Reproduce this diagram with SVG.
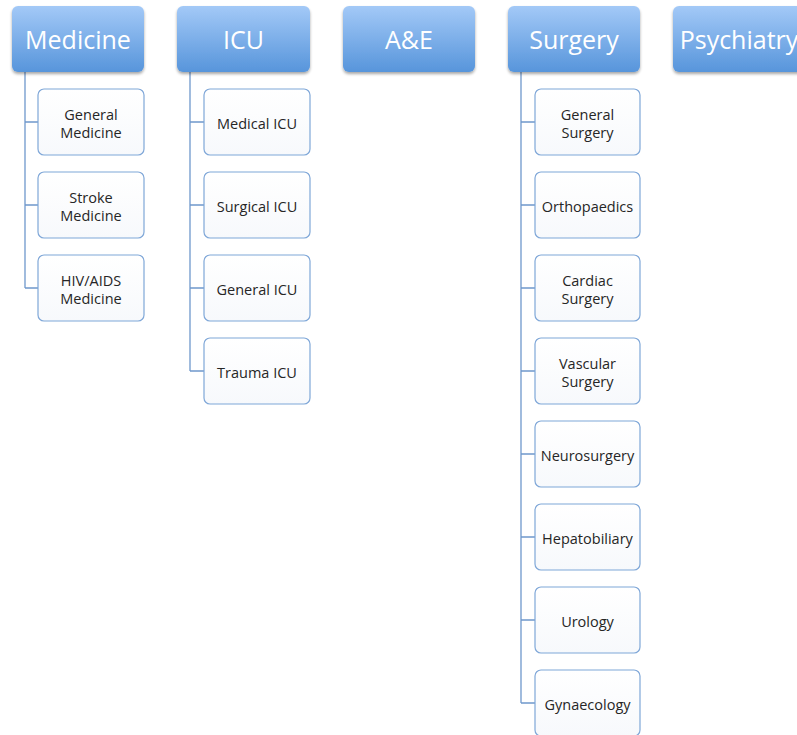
<svg xmlns="http://www.w3.org/2000/svg" width="797" height="735" viewBox="0 0 797 735">
<defs>
<linearGradient id="topg" x1="0" y1="0" x2="0" y2="1">
<stop offset="0" stop-color="#a3c9f7"/>
<stop offset="1" stop-color="#5795db"/>
</linearGradient>
<linearGradient id="childg" x1="0" y1="0" x2="0" y2="1">
<stop offset="0" stop-color="#ffffff"/>
<stop offset="1" stop-color="#f7f9fc"/>
</linearGradient>
<filter id="sh" x="-10%" y="-10%" width="120%" height="130%">
<feGaussianBlur in="SourceAlpha" stdDeviation="1.5"/>
<feOffset dx="0" dy="2" result="b"/>
<feComponentTransfer><feFuncA type="linear" slope="0.35"/></feComponentTransfer>
<feMerge><feMergeNode/><feMergeNode in="SourceGraphic"/></feMerge>
</filter>
</defs>
<style>
.top rect{fill:url(#topg);filter:url(#sh);}
.top text{font-family:"Open Sans",sans-serif;font-size:25px;fill:#ffffff;text-anchor:middle;}
.child rect{fill:url(#childg);stroke:#7fa7d8;stroke-width:1.2;}
.child text{font-family:"Open Sans",sans-serif;font-size:14.5px;fill:#262626;text-anchor:middle;}
.conn path{fill:none;stroke:#6f98cc;stroke-width:1.3;}
</style>
<rect width="797" height="735" fill="#ffffff"/>
<g id="connectors" class="conn">
<path d="M25 72V288M25 122H38M25 205H38M25 288H38"/>
<path d="M190 72V371M190 122H204M190 205H204M190 288H204M190 371H204"/>
<path d="M521 72V703M521 122H535M521 205H535M521 288H535M521 371H535M521 454H535M521 537H535M521 620H535M521 703H535"/>
</g>
<g id="medicine" class="top"><rect x="12" y="6" width="132" height="66" rx="6"/><text x="78" y="49">Medicine</text></g>
<g id="icu" class="top"><rect x="177" y="6" width="133" height="66" rx="6"/><text x="243.5" y="49">ICU</text></g>
<g id="ae" class="top"><rect x="343" y="6" width="132" height="66" rx="6"/><text x="409" y="49">A&amp;E</text></g>
<g id="surgery" class="top"><rect x="508" y="6" width="132" height="66" rx="6"/><text x="574" y="49">Surgery</text></g>
<g id="psychiatry" class="top"><rect x="673" y="6" width="132" height="66" rx="6"/><text x="739" y="49">Psychiatry</text></g>

<g id="general-medicine" class="child"><rect x="38" y="89" width="106" height="66" rx="6"/><text x="91" y="119.5">General</text><text x="91" y="137.5">Medicine</text></g>
<g id="stroke-medicine" class="child"><rect x="38" y="172" width="106" height="66" rx="6"/><text x="91" y="202.5">Stroke</text><text x="91" y="220.5">Medicine</text></g>
<g id="hiv-medicine" class="child"><rect x="38" y="255" width="106" height="66" rx="6"/><text x="91" y="285.5">HIV/AIDS</text><text x="91" y="303.5">Medicine</text></g>

<g id="medical-icu" class="child"><rect x="204" y="89" width="106" height="66" rx="6"/><text x="257" y="128.5">Medical ICU</text></g>
<g id="surgical-icu" class="child"><rect x="204" y="172" width="106" height="66" rx="6"/><text x="257" y="211.5">Surgical ICU</text></g>
<g id="general-icu" class="child"><rect x="204" y="255" width="106" height="66" rx="6"/><text x="257" y="294.5">General ICU</text></g>
<g id="trauma-icu" class="child"><rect x="204" y="338" width="106" height="66" rx="6"/><text x="257" y="377.5">Trauma ICU</text></g>

<g id="general-surgery" class="child"><rect x="535" y="89" width="105" height="66" rx="6"/><text x="587.5" y="119.5">General</text><text x="587.5" y="137.5">Surgery</text></g>
<g id="orthopaedics" class="child"><rect x="535" y="172" width="105" height="66" rx="6"/><text x="587.5" y="211.5">Orthopaedics</text></g>
<g id="cardiac-surgery" class="child"><rect x="535" y="255" width="105" height="66" rx="6"/><text x="587.5" y="285.5">Cardiac</text><text x="587.5" y="303.5">Surgery</text></g>
<g id="vascular-surgery" class="child"><rect x="535" y="338" width="105" height="66" rx="6"/><text x="587.5" y="368.5">Vascular</text><text x="587.5" y="386.5">Surgery</text></g>
<g id="neurosurgery" class="child"><rect x="535" y="421" width="105" height="66" rx="6"/><text x="587.5" y="460.5">Neurosurgery</text></g>
<g id="hepatobiliary" class="child"><rect x="535" y="504" width="105" height="66" rx="6"/><text x="587.5" y="543.5">Hepatobiliary</text></g>
<g id="urology" class="child"><rect x="535" y="587" width="105" height="66" rx="6"/><text x="587.5" y="626.5">Urology</text></g>
<g id="gynaecology" class="child"><rect x="535" y="670" width="105" height="66" rx="6"/><text x="587.5" y="709.5">Gynaecology</text></g>
</svg>
